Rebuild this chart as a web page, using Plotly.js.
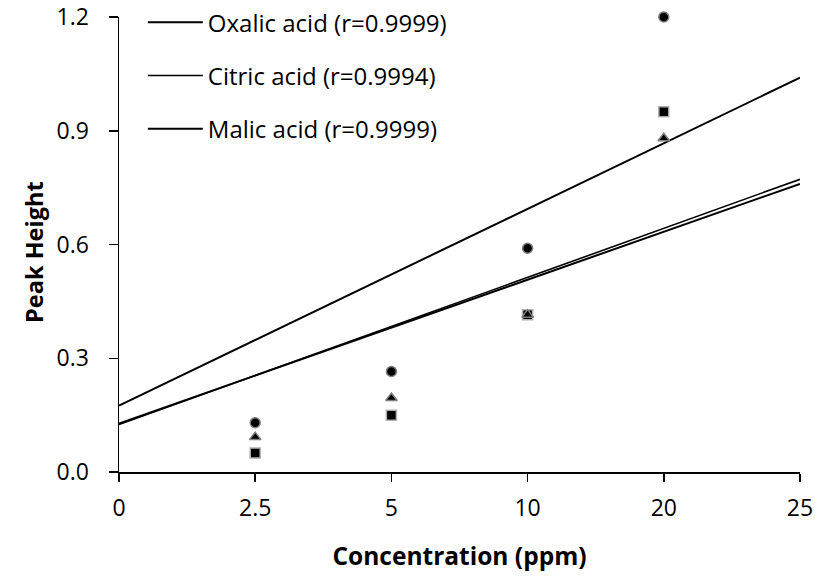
<!DOCTYPE html>
<html>
<head>
<meta charset="utf-8">
<script src="https://cdn.plot.ly/plotly-3.0.1.min.js"></script>
<style>
  html, body { margin: 0; padding: 0; background: #fff; }
  #chart { width: 815px; height: 579px; }
</style>
</head>
<body>
<div id="chart"></div>
<script>
// Concentration categories shown on the x axis
const categories = ['0', '2.5', '5', '10', '20', '25'];
// Concentrations that have measured points
const sampleConc = ['2.5', '5', '10', '20'];

// Measured peak heights
const oxalicPeak = [0.13, 0.265, 0.59, 1.20];
const citricPeak = [0.05, 0.15, 0.415, 0.95];
const malicPeak  = [0.092, 0.195, 0.415, 0.88];

// Calibration lines, evaluated at both ends of the axis
const lineConc   = ['0', '25'];
const oxalicLine = [0.175, 1.04];
const citricLine = [0.125, 0.772];
const malicLine  = [0.128, 0.760];

// Legend labels
const oxalicName = 'Oxalic acid (r=0.9999)';
const citricName = 'Citric acid (r=0.9994)';
const malicName  = 'Malic acid (r=0.9999)';

const FONT = '"Open Sans", Lato, sans-serif';

function pointTrace(y, symbol, edge) {
  return {
    type: 'scatter', mode: 'markers', x: sampleConc, y: y,
    showlegend: false, hoverinfo: 'skip', cliponaxis: false,
    marker: { symbol: symbol, size: 10, color: '#000', line: { color: edge, width: 1.5 } }
  };
}
function lineTrace(y, name, group, width) {
  return {
    type: 'scatter', mode: 'lines', x: lineConc, y: y, name: name,
    legendgroup: group, hoverinfo: 'skip',
    line: { color: '#000', width: width }
  };
}

const data = [
  lineTrace(oxalicLine, oxalicName, 'ox', 2),
  lineTrace(citricLine, citricName, 'ci', 1.6),
  lineTrace(malicLine, malicName, 'ma', 2),
  pointTrace(citricPeak, 'square', '#b0b0b0'),
  pointTrace(malicPeak, 'triangle-up', '#808080'),
  pointTrace(oxalicPeak, 'circle', '#808080')
];

const layout = {
  width: 815, height: 579,
  margin: { l: 119, r: 15, t: 17, b: 107, autoexpand: false },
  paper_bgcolor: '#fff', plot_bgcolor: '#fff',
  font: { family: FONT, size: 23, color: '#000' },
  showlegend: true,
  legend: {
    x: 0.035, y: 1.037, xanchor: 'left', yanchor: 'top',
    bgcolor: 'rgba(0,0,0,0)', borderwidth: 0,
    traceorder: 'grouped', tracegroupgap: 19, itemwidth: 55,
    font: { family: FONT, size: 24, color: '#000' }
  },
  xaxis: {
    type: 'category', categoryorder: 'array', categoryarray: categories,
    range: [0, 5], showgrid: false, zeroline: false,
    showline: true, linecolor: '#000', linewidth: 1.5,
    ticks: 'outside', ticklen: 8, tickwidth: 1.5, tickcolor: '#000',
    ticklabelstandoff: 7,
    tickfont: { family: FONT, size: 23, color: '#000' },
    title: { text: '<b>Concentration (ppm)</b>', font: { family: FONT, size: 24.5, color: '#000' }, standoff: 26 }
  },
  yaxis: {
    range: [0, 1.2], dtick: 0.3, tick0: 0, tickformat: '.1f',
    showgrid: false, zeroline: false,
    showline: true, linecolor: '#000', linewidth: 1.5,
    ticks: 'outside', ticklen: 9, tickwidth: 1.5, tickcolor: '#000',
    ticklabelstandoff: 15,
    tickfont: { family: FONT, size: 23, color: '#000' }
  },
  annotations: [{
    text: '<b>Peak Height</b>', xref: 'paper', yref: 'paper',
    x: -0.126, y: 0.482, xanchor: 'center', yanchor: 'middle',
    textangle: -90, showarrow: false,
    font: { family: FONT, size: 23.5, color: '#000' }
  }]
};

Plotly.newPlot('chart', data, layout, { staticPlot: true, displayModeBar: false });
</script>
</body>
</html>
